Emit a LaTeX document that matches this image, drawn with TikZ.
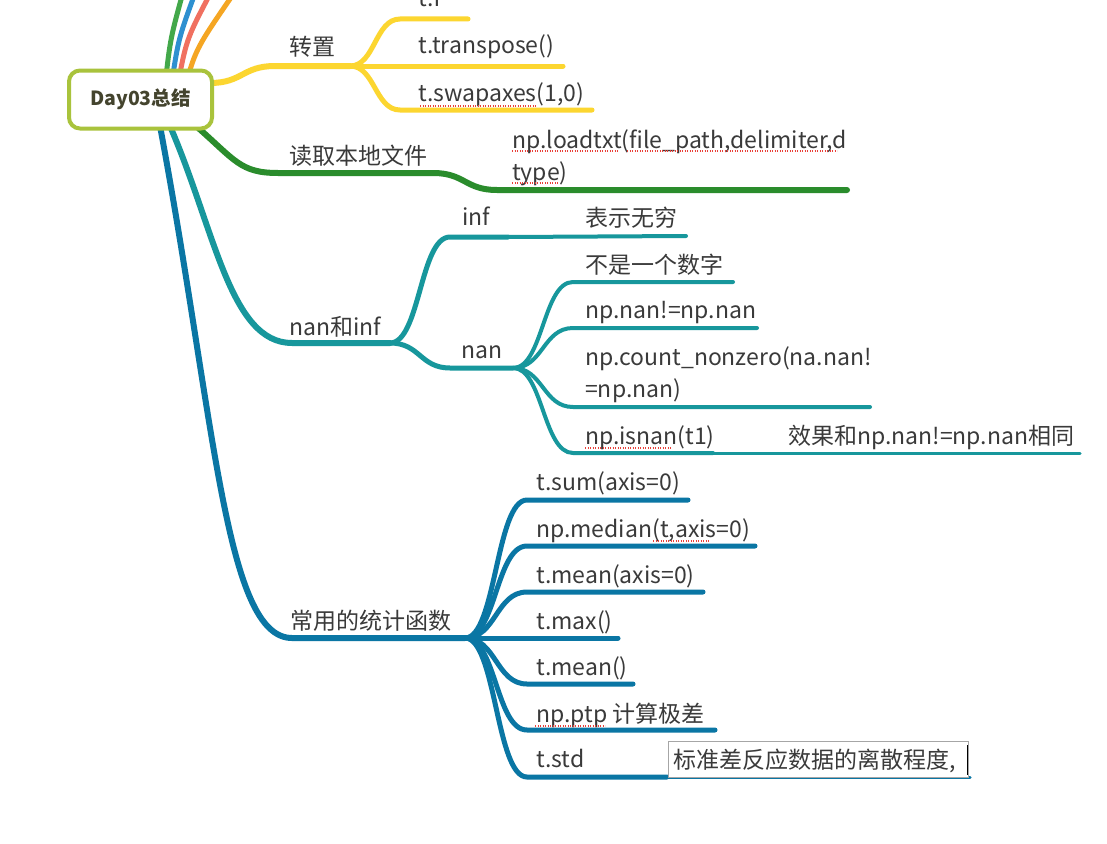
\documentclass[tikz,border=0pt]{standalone}
\usepackage{fontspec}
\setmainfont{Noto Sans CJK SC}
\usetikzlibrary{calc}
\definecolor{txt}{HTML}{3A3A3A}
\definecolor{roottxt}{HTML}{44442E}
\definecolor{rootc}{HTML}{A9C33C}
\definecolor{ylw}{HTML}{FCD630}
\definecolor{grn}{HTML}{2A8C2C}
\definecolor{tel}{HTML}{17979C}
\definecolor{blu}{HTML}{0A76A4}
\definecolor{tg}{HTML}{43A84A}
\definecolor{tb}{HTML}{2E90D0}
\definecolor{tr}{HTML}{F07060}
\definecolor{to}{HTML}{F5A623}
\definecolor{spell}{HTML}{E8403A}
\pgfdeclarelayer{bg}
\pgfsetlayers{bg,main}
\tikzset{
  lbl/.style={anchor=base west, inner sep=0pt, text=txt, font=\fontsize{23}{32}\selectfont},
  mainbr/.style={line width=6pt, line cap=round},
  subbr/.style={line width=5pt, line cap=round},
  leafbr/.style={line width=4pt, line cap=round},
  thinbr/.style={line width=3pt, line cap=round},
  topln/.style={line width=5pt},
  curv/.style={to path={.. controls ($(\tikztostart)!.5!(\tikztostart -| \tikztotarget)$) and ($(\tikztotarget)!.5!(\tikztostart |- \tikztotarget)$) .. (\tikztotarget)}},
  spellchk/.style={spell, line width=1.2pt, dash pattern=on 1.2pt off 1.3pt},
  rootbox/.style={draw=rootc, line width=4pt, fill=white, rounded corners=11pt, minimum width=143pt, minimum height=58pt, inner sep=0pt, text=roottxt, font=\fontsize{19.5}{22}\selectfont\bfseries}
}
\begin{document}
\begin{tikzpicture}[x=1pt,y=-1pt]
\useasboundingbox (0,0) rectangle (1107,843);
\clip (0,0) rectangle (1107,843);
\begin{pgfonlayer}{bg}
\fill[white] (0,0) rectangle (1107,843);
\end{pgfonlayer}

% root
\node[rootbox] (root) at (140.5,99.5) {Day03总结};

% ---------- coordinates ----------
\coordinate (gA) at (164,95);  \coordinate (gB) at (182,-4);
\coordinate (bA) at (170,95);  \coordinate (bB) at (194,-4);
\coordinate (rA) at (176,95);  \coordinate (rB) at (209,-4);
\coordinate (oA) at (183,95);  \coordinate (oB) at (232,-4);

\coordinate (yS) at (210,83);
\coordinate (yA) at (275,66);
\coordinate (yJ) at (350,66);
\coordinate (yT1) at (400,19);  \coordinate (yT2) at (468,19);
\coordinate (yM2) at (563,66);
\coordinate (yB1) at (400,110); \coordinate (yB2) at (592,110);

\coordinate (gS) at (196,126);
\coordinate (gC) at (278,173);
\coordinate (gD) at (433,173);
\coordinate (gE) at (497,190);
\coordinate (gF) at (847,190);

\coordinate (tS) at (170,126);
\coordinate (tC) at (292,343);
\coordinate (tJ) at (390,343);
\coordinate (iC) at (450,237); \coordinate (iD) at (508,237); \coordinate (iE) at (686,236);
\coordinate (nC) at (450,368); \coordinate (nJ) at (513,368);
\coordinate (n1) at (573,282); \coordinate (n1e) at (733,282);
\coordinate (n2) at (573,328); \coordinate (n2e) at (757,328);
\coordinate (n3) at (573,407); \coordinate (n3e) at (870,407);
\coordinate (n4) at (573,453); \coordinate (n4e) at (713,453); \coordinate (n4f) at (1080,453);

\coordinate (uS) at (160,126);
\coordinate (uC) at (292,638);
\coordinate (uJ) at (465,638);
\coordinate (s1) at (527,500); \coordinate (s1e) at (688,500);
\coordinate (s2) at (527,546); \coordinate (s2e) at (755,546);
\coordinate (s3) at (527,592); \coordinate (s3e) at (703,592);
\coordinate (s4) at (527,638); \coordinate (s4e) at (618,638);
\coordinate (s5) at (527,684); \coordinate (s5e) at (633,684);
\coordinate (s6) at (527,730); \coordinate (s6e) at (715,730);
\coordinate (s7) at (527,777); \coordinate (s7e) at (667,777); \coordinate (s7f) at (970,777);

% ---------- connectors ----------
\begin{pgfonlayer}{bg}
\draw[topln, tg] (gA) .. controls (170,40) .. (gB);
\draw[topln, tb] (bA) .. controls (178,40) .. (bB);
\draw[topln, tr] (rA) .. controls (186,40) .. (rB);
\draw[topln, to] (oA) .. controls (195,50) .. (oB);

\draw[mainbr, ylw] (yS) to[curv] (yA) -- (yJ);
\draw[subbr, ylw] (yJ) to[curv] (yT1) -- (yT2);
\draw[subbr, ylw] (yJ) -- (yM2);
\draw[subbr, ylw] (yJ) to[curv] (yB1) -- (yB2);

\draw[mainbr, grn] (gS) .. controls (235,160) and (240,173) .. (gC) -- (gD) to[curv] (gE) -- (gF);

\draw[mainbr, tel] (tS) .. controls (215,230) and (230,343) .. (tC) -- (tJ);
\draw[subbr, tel] (tJ) to[curv] (iC) -- (iD);
\draw[leafbr, tel] (iD) -- (iE);
\draw[subbr, tel] (tJ) to[curv] (nC) -- (nJ);
\draw[leafbr, tel] (nJ) to[curv] (n1) -- (n1e);
\draw[leafbr, tel] (nJ) to[curv] (n2) -- (n2e);
\draw[leafbr, tel] (nJ) to[curv] (n3) -- (n3e);
\draw[leafbr, tel] (nJ) to[curv] (n4) -- (n4e);
\draw[thinbr, tel] (n4e) -- (n4f);

\draw[mainbr, blu] (uS) .. controls (215,420) and (225,638) .. (uC) -- (uJ);
\foreach \k in {1,...,6} {\draw[subbr, blu] (uJ) to[curv] (s\k) -- (s\k e);}
\draw[subbr, blu] (uJ) to[curv] (s7) -- (s7e);
\draw[thinbr, blu] (s7e) -- (s7f);
\end{pgfonlayer}

% ---------- labels ----------
\node[lbl] (zz) at (289,56) {转置};
\node[lbl] (tT) at (418,7) {t.T};
\node[lbl] (ttr) at (418,54) {t.transpose()};
\node[lbl] (tsw) at (418,101) {t.swapaxes(1,0)};
\node[lbl] (rd) at (289,164) {读取本地文件};
\node[lbl, align=left] (ld) at (512,180) {np.loadtxt(file\_path,delimiter,d\\type)};
\node[lbl] (nai) at (289,335) {nan和inf};
\node[lbl] (inf) at (462,225) {inf};
\node[lbl] (inf1) at (585,226) {表示无穷};
\node[lbl] (nan) at (461,358) {nan};
\node[lbl] (nan1) at (585,273) {不是一个数字};
\node[lbl] (nan2) at (585,318) {np.nan!=np.nan};
\node[lbl, align=left] (nan3) at (585,397) {np.count\_nonzero(na.nan!\\=np.nan)};
\node[lbl] (nan4) at (585,444) {np.isnan(t1)};
\node[lbl] (nan4b) at (788,444) {效果和np.nan!=np.nan相同};
\node[lbl] (cy) at (290,629) {常用的统计函数};
\node[lbl] (f1) at (536,490) {t.sum(axis=0)};
\node[lbl] (f2) at (536,537) {np.median(t,axis=0)};
\node[lbl] (f3) at (536,583) {t.mean(axis=0)};
\node[lbl] (f4) at (536,629) {t.max()};
\node[lbl] (f5) at (536,675) {t.mean()};
\node[lbl] (f6) at (536,722) {np.ptp 计算极差};
\node[lbl] (f7) at (536,767) {t.std};
\draw[black!35, line width=0.8pt, fill=white] (668,741) rectangle (968,777);
\node[lbl] (f7b) at (673,768) {标准差反应数据的离散程度,};
\draw[black, line width=0.8pt] (967,745) -- (967,775);

% ---------- spell-check marks ----------
\draw[spellchk] (420,106) -- (537,106);
\draw[spellchk] (512,151) -- (618,151);
\draw[spellchk] (627,151) -- (837,151);
\draw[spellchk] (512,183) -- (558,183);
\draw[spellchk] (585,448) -- (672,448);
\draw[spellchk] (653,541) -- (710,541);
\draw[spellchk] (535,726) -- (605,726);
\end{tikzpicture}
\end{document}
